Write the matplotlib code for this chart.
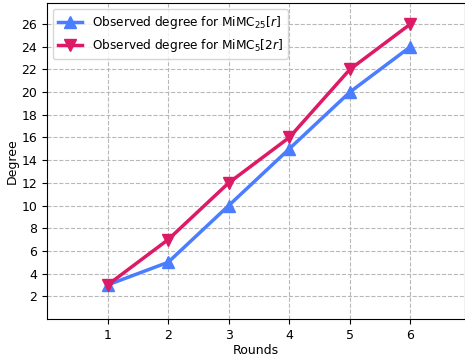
import matplotlib
matplotlib.use("Agg")
import matplotlib.pyplot as plt

rounds = [1, 2, 3, 4, 5, 6]
deg_mimc25 = [3, 5, 10, 15, 20, 24]
deg_mimc5 = [3, 7, 12, 16, 22, 26]

fig = plt.figure(figsize=(4.65, 3.58), dpi=100)
ax = fig.add_axes([47 / 465, 1 - 319 / 358, 418 / 465, 316 / 358])

ax.plot(rounds, deg_mimc25, color="#4a7dff", marker="^", markersize=8,
        linewidth=2.5, label=r"Observed degree for MiMC$_{25}[r]$")
ax.plot(rounds, deg_mimc5, color="#dc1a66", marker="v", markersize=8,
        linewidth=2.5, label=r"Observed degree for MiMC$_{5}[2r]$")

ax.set_xlim(0, 6.9)
ax.set_ylim(0, 27.85)
ax.set_xticks(rounds)
ax.set_yticks(range(2, 27, 2))
ax.tick_params(labelsize=9)
ax.grid(True, linestyle="--", color="#b8b8b8", linewidth=0.8)
ax.set_xlabel("Rounds", fontsize=9, labelpad=2)
ax.set_ylabel("Degree", fontsize=9, labelpad=2)
ax.legend(loc="upper left", fontsize=8.7)

fig.savefig("out.png", dpi=100)
